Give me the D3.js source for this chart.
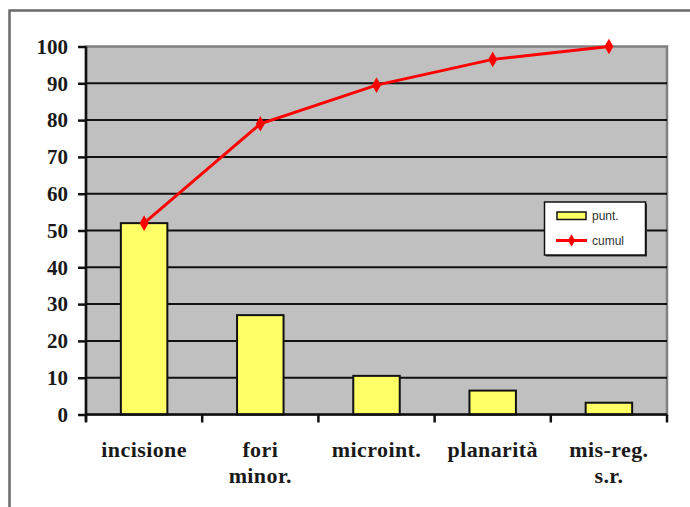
<!DOCTYPE html>
<html>
<head>
<meta charset="utf-8">
<script src="https://cdn.jsdelivr.net/npm/d3@7"></script>
<style>
  html, body { margin: 0; padding: 0; background: #fff; }
  svg { display: block; }
  .serif { font-family: "Liberation Serif", "Times New Roman", Tinos, "DejaVu Serif", serif; font-weight: bold; }
</style>
</head>
<body>
<svg id="chart" width="690" height="507"></svg>
<script>
const categories = [["incisione"], ["fori", "minor."], ["microint."], ["planarità"], ["mis-reg.", "s.r."]];
const punt = [52, 27, 10.5, 6.5, 3.2];
const cumul = [52, 79, 89.5, 96.5, 100];
const yTicks = [0, 10, 20, 30, 40, 50, 60, 70, 80, 90, 100];
const legendLabels = ["punt.", "cumul"];

const svg = d3.select("#chart");
const W = 690, H = 507;
const plot = { left: 86, right: 667, top: 46.5, bottom: 414.5 };

// outer frame
svg.append("path")
  .attr("d", `M9.5,${H + 5} L9.5,10.5 L${W + 5},10.5`)
  .attr("fill", "none").attr("stroke", "#6a6a6a").attr("stroke-width", 2.5);

const x = d3.scaleBand().domain(d3.range(categories.length))
  .range([plot.left, plot.right]).paddingInner(0).paddingOuter(0);
const y = d3.scaleLinear().domain([0, 100]).range([plot.bottom, plot.top]);

// plot area background
svg.append("rect")
  .attr("x", plot.left).attr("y", plot.top)
  .attr("width", plot.right - plot.left).attr("height", plot.bottom - plot.top)
  .attr("fill", "#c0c0c0").attr("stroke", "#808080").attr("stroke-width", 2.5);

// gridlines
svg.append("g").selectAll("line").data(yTicks.filter(d => d > 0 && d < 100)).join("line")
  .attr("x1", plot.left).attr("x2", plot.right)
  .attr("y1", d => y(d)).attr("y2", d => y(d))
  .attr("stroke", "#111").attr("stroke-width", 2);

// bars
const bw = x.bandwidth() * 0.4;
svg.append("g").selectAll("rect").data(punt).join("rect")
  .attr("x", (d, i) => x(i) + x.bandwidth() / 2 - bw / 2)
  .attr("y", d => y(d))
  .attr("width", bw)
  .attr("height", d => y(0) - y(d))
  .attr("fill", "#ffff66").attr("stroke", "#111").attr("stroke-width", 2);

// y axis
const yAxis = d3.axisLeft(y).tickValues(yTicks).tickSize(8).tickPadding(10).tickSizeOuter(0);
const gy = svg.append("g").attr("transform", `translate(${plot.left},0)`).call(yAxis);
gy.select(".domain").remove();
gy.attr("font-family", null).attr("font-size", null);
gy.selectAll(".tick line").attr("stroke", "#111").attr("stroke-width", 2.5);
gy.selectAll(".tick text")
  .attr("class", "serif")
  .attr("font-size", 21).attr("fill", "#1a1a1a");
svg.append("line")
  .attr("x1", plot.left).attr("x2", plot.left)
  .attr("y1", plot.top).attr("y2", plot.bottom + 7)
  .attr("stroke", "#111").attr("stroke-width", 2.5);

// x axis
svg.append("line")
  .attr("x1", plot.left).attr("x2", plot.right)
  .attr("y1", plot.bottom).attr("y2", plot.bottom)
  .attr("stroke", "#111").attr("stroke-width", 2.5);
const boundaries = d3.range(categories.length + 1).map(i => i < categories.length ? x(i) : plot.right);
svg.append("g").selectAll("line").data(boundaries).join("line")
  .attr("x1", d => d).attr("x2", d => d)
  .attr("y1", plot.bottom).attr("y2", plot.bottom + 8)
  .attr("stroke", "#111").attr("stroke-width", 2.5);

const xl = svg.append("g").selectAll("text").data(categories).join("text")
  .attr("class", "serif")
  .attr("x", (d, i) => x(i) + x.bandwidth() / 2)
  .attr("y", 457)
  .attr("text-anchor", "middle")
  .attr("font-size", 22).attr("fill", "#1a1a1a")
  .attr("letter-spacing", 0.4);
xl.selectAll("tspan").data(d => d).join("tspan")
  .attr("x", function () { return d3.select(this.parentNode).attr("x"); })
  .attr("dy", (d, i) => i === 0 ? 0 : 26)
  .text(d => d);

// cumulative line
const cx = i => x(i) + x.bandwidth() / 2;
svg.append("path").datum(cumul)
  .attr("d", d3.line().x((d, i) => cx(i)).y(d => y(d)))
  .attr("fill", "none").attr("stroke", "#ff0000").attr("stroke-width", 3);
svg.append("g").selectAll("path").data(cumul).join("path")
  .attr("transform", (d, i) => `translate(${cx(i)},${y(d)})`)
  .attr("d", d3.symbol(d3.symbolDiamond, 70))
  .attr("fill", "#ff0000");

// legend
const lg = svg.append("g");
lg.append("rect").attr("x", 546).attr("y", 203.5).attr("width", 101).attr("height", 53).attr("fill", "#333");
lg.append("rect").attr("x", 544.5).attr("y", 202).attr("width", 101).attr("height", 53)
  .attr("fill", "#fff").attr("stroke", "#111").attr("stroke-width", 1.5);
lg.append("rect").attr("x", 557).attr("y", 212).attr("width", 29).attr("height", 7.5)
  .attr("fill", "#ffff66").attr("stroke", "#111").attr("stroke-width", 1.5);
lg.append("line").attr("x1", 556).attr("x2", 587).attr("y1", 240.5).attr("y2", 240.5)
  .attr("stroke", "#ff0000").attr("stroke-width", 3);
lg.append("path").attr("transform", "translate(571.5,240.5)")
  .attr("d", d3.symbol(d3.symbolDiamond, 45)).attr("fill", "#ff0000");
lg.selectAll("text").data(legendLabels).join("text")
  .attr("x", 592).attr("y", (d, i) => 220 + i * 25)
  .attr("font-family", "'Liberation Sans Narrow', 'Liberation Sans', Arial, sans-serif")
  .attr("font-size", 12).attr("fill", "#333")
  .text(d => d);
</script>
</body>
</html>
